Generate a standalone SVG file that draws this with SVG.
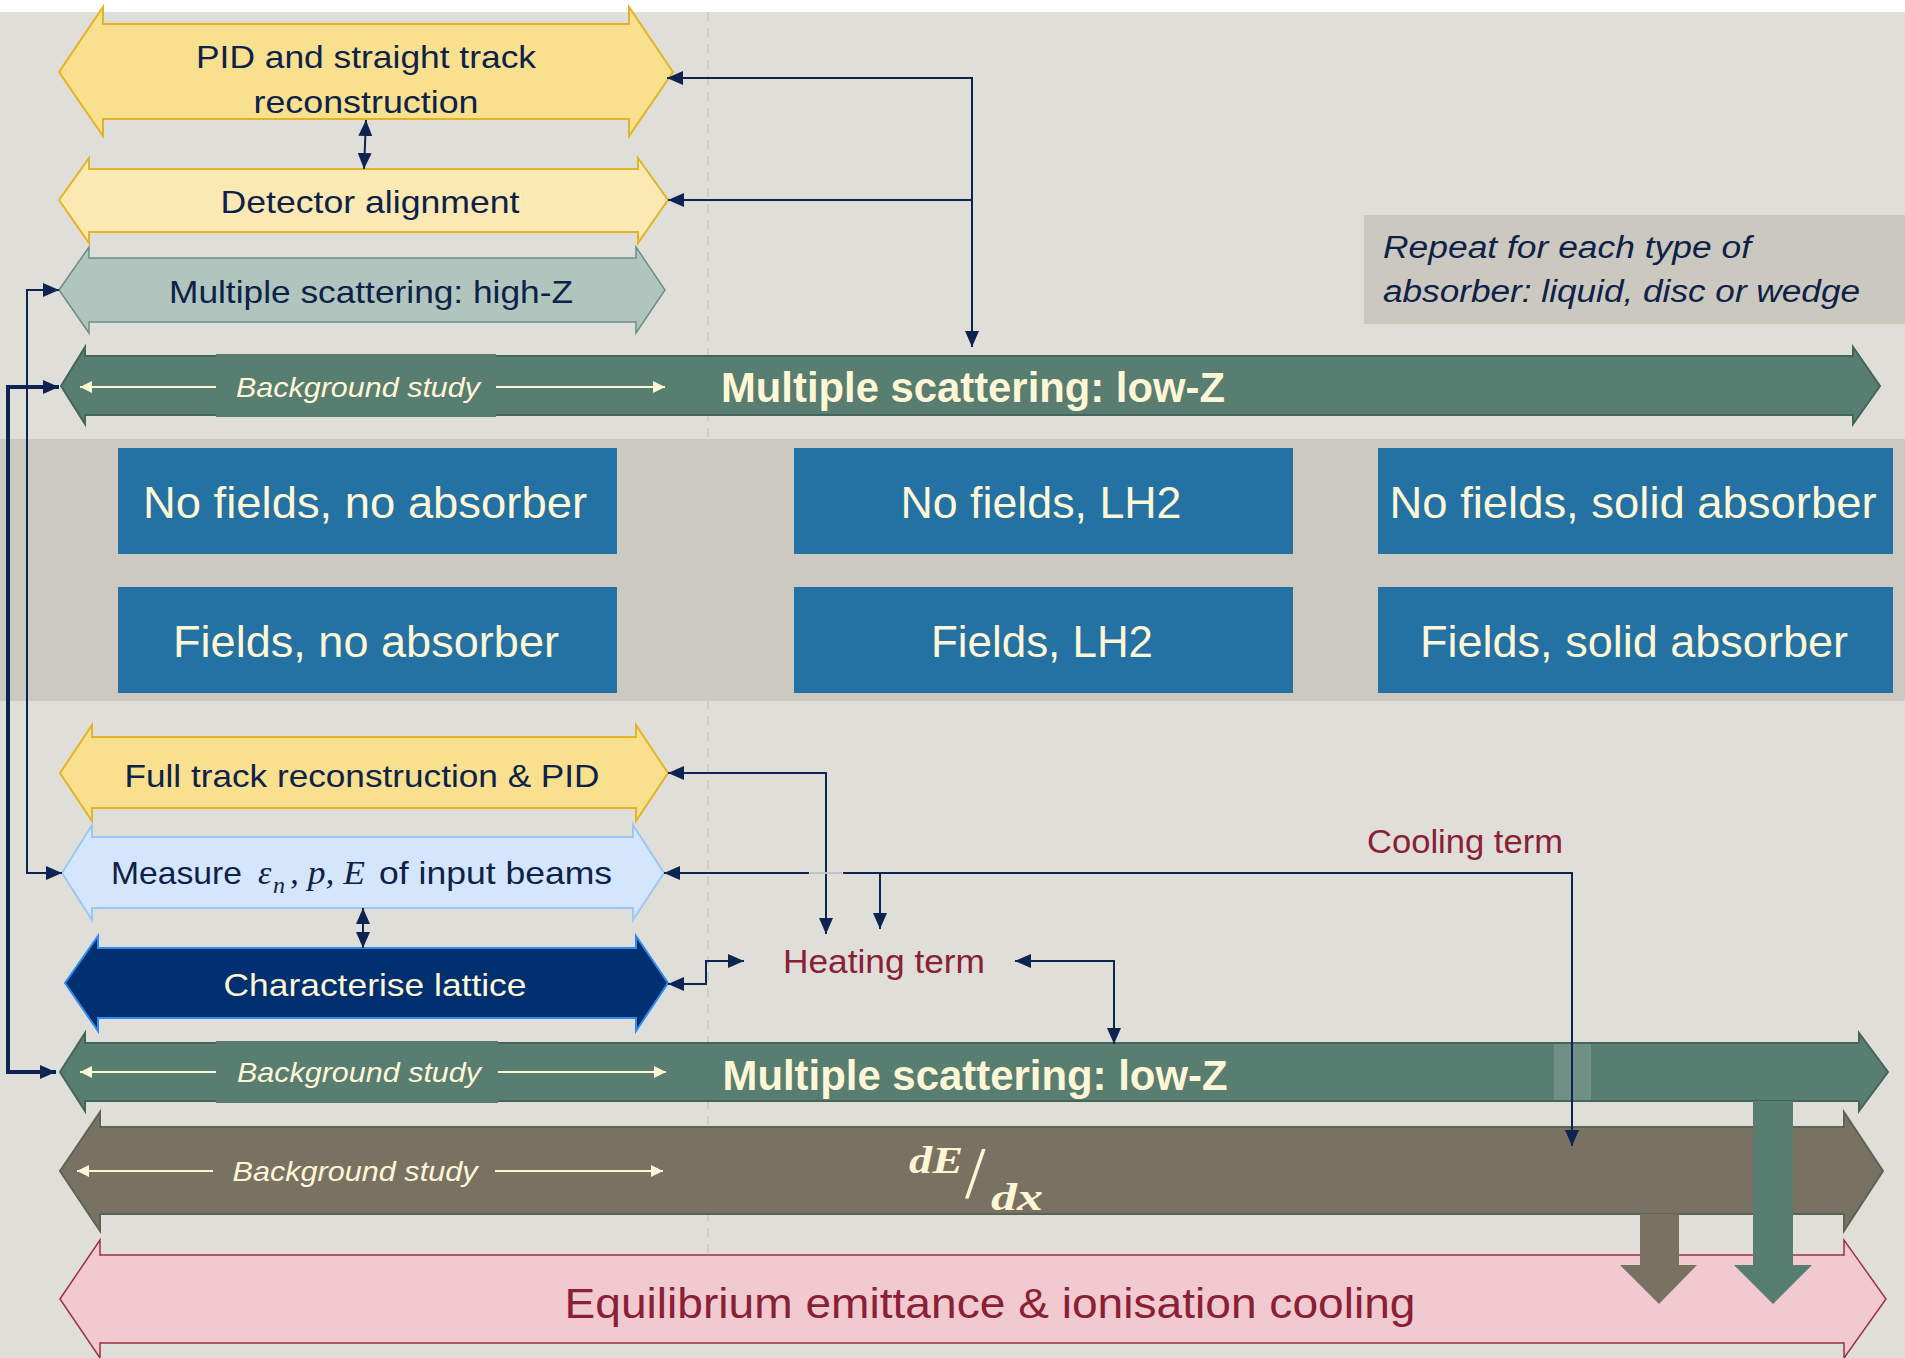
<svg xmlns="http://www.w3.org/2000/svg" width="1905" height="1358" viewBox="0 0 1905 1358">
<defs>
<style>
.t{font-family:"Liberation Sans",Arial,sans-serif;}
.m{font-family:"Liberation Serif","DejaVu Serif",serif;font-style:italic;}
.navy{fill:#0E2148}
.cream{fill:#FFF6D6}
.red{fill:#8B2035}
.ln{fill:none;stroke:#0D2450;stroke-width:2}
.thick{stroke-width:4}
.lnw{fill:none;stroke:#FFF6D6;stroke-width:2}
.box{fill:#2372A3}
</style>
<marker id="ah" viewBox="0 0 16 14" refX="16" refY="7" markerWidth="16" markerHeight="14" markerUnits="userSpaceOnUse" orient="auto-start-reverse"><path d="M0,0 L16,7 L0,14 z" fill="#0D2450"/></marker>
<marker id="wh" viewBox="0 0 12 12" refX="12" refY="6" markerWidth="12" markerHeight="12" markerUnits="userSpaceOnUse" orient="auto-start-reverse"><path d="M0,0 L12,6 L0,12 z" fill="#FFF6D6"/></marker>
</defs>
<rect x="0" y="0" width="1905" height="1358" fill="#FFFFFF"/>
<rect x="0" y="12" width="1905" height="1346" fill="#DFDED9"/>
<line x1="708" y1="12" x2="708" y2="1256" stroke="#C9C6BF" stroke-width="1.5" stroke-dasharray="9 7"/>
<rect id="band" x="0" y="439" width="1905" height="262" fill="#CCC9C1"/>

<g id="pid-straight">
<polygon points="59,72 103,7 103,24 629,24 629,7 673,72 629,136 629,119 103,119 103,136" fill="#F8E08F" stroke="#E3B324" stroke-width="2"/>
<text class="t navy" x="366" y="68" font-size="32" text-anchor="middle" textLength="340" lengthAdjust="spacingAndGlyphs">PID and straight track</text>
<text class="t navy" x="366" y="113" font-size="32" text-anchor="middle" textLength="225" lengthAdjust="spacingAndGlyphs">reconstruction</text>
</g>
<g id="detector-alignment">
<polygon points="59,200 89,158 89,169 638,169 638,158 668,200 638,243 638,232 89,232 89,243" fill="#FAE9B2" stroke="#E3B324" stroke-width="2"/>
<text class="t navy" x="370" y="213" font-size="32" text-anchor="middle" textLength="299" lengthAdjust="spacingAndGlyphs">Detector alignment</text>
</g>
<g id="ms-highz">
<polygon points="59,290 89,247 89,258 636,258 636,247 665,290 636,333 636,322 89,322 89,333" fill="#AFC5BD" stroke="#6E8E85" stroke-width="1.5"/>
<text class="t navy" x="371" y="303" font-size="32" text-anchor="middle" textLength="404" lengthAdjust="spacingAndGlyphs">Multiple scattering: high-Z</text>
</g>
<g id="ms-lowz-top">
<polygon points="61,386 85,347 85,356 1853,356 1853,347 1880,386 1853,424 1853,415 85,415 85,424" fill="#587D71" stroke="#456559" stroke-width="2"/>
<rect x="216" y="354" width="280" height="63" fill="#587D71"/>
<line class="lnw" x1="216" y1="387" x2="80" y2="387" marker-end="url(#wh)"/>
<line class="lnw" x1="496" y1="387" x2="665" y2="387" marker-end="url(#wh)"/>
<text class="t cream" x="358" y="397" font-size="28" font-style="italic" text-anchor="middle" textLength="244" lengthAdjust="spacingAndGlyphs">Background study</text>
<text class="t cream" x="973" y="402" font-size="42" font-weight="bold" text-anchor="middle" textLength="504" lengthAdjust="spacingAndGlyphs">Multiple scattering: low-Z</text>
</g>
<g id="repeat-note">
<rect x="1364" y="215" width="541" height="109" fill="#CBC8BF"/>
<text class="t navy" x="1383" y="258" font-size="31" font-style="italic" textLength="368" lengthAdjust="spacingAndGlyphs">Repeat for each type of</text>
<text class="t navy" x="1383" y="302" font-size="31" font-style="italic" textLength="477" lengthAdjust="spacingAndGlyphs">absorber: liquid, disc or wedge</text>
</g>

<g id="nofields-noabs"><rect class="box" x="118" y="448" width="499" height="106"/><text class="t cream" x="365" y="518" font-size="44" text-anchor="middle" textLength="444" lengthAdjust="spacingAndGlyphs">No fields, no absorber</text></g>
<g id="nofields-lh2"><rect class="box" x="794" y="448" width="499" height="106"/><text class="t cream" x="1041" y="518" font-size="44" text-anchor="middle" textLength="281" lengthAdjust="spacingAndGlyphs">No fields, LH2</text></g>
<g id="nofields-solid"><rect class="box" x="1378" y="448" width="515" height="106"/><text class="t cream" x="1633" y="518" font-size="44" text-anchor="middle" textLength="487" lengthAdjust="spacingAndGlyphs">No fields, solid absorber</text></g>
<g id="fields-noabs"><rect class="box" x="118" y="587" width="499" height="106"/><text class="t cream" x="366" y="657" font-size="44" text-anchor="middle" textLength="386" lengthAdjust="spacingAndGlyphs">Fields, no absorber</text></g>
<g id="fields-lh2"><rect class="box" x="794" y="587" width="499" height="106"/><text class="t cream" x="1042" y="657" font-size="44" text-anchor="middle" textLength="222" lengthAdjust="spacingAndGlyphs">Fields, LH2</text></g>
<g id="fields-solid"><rect class="box" x="1378" y="587" width="515" height="106"/><text class="t cream" x="1634" y="657" font-size="44" text-anchor="middle" textLength="428" lengthAdjust="spacingAndGlyphs">Fields, solid absorber</text></g>

<g id="full-track">
<polygon points="60,773 92,725 92,737 636,737 636,725 668,773 636,821 636,808 92,808 92,821" fill="#F8E08F" stroke="#E3B324" stroke-width="2"/>
<text class="t navy" x="362" y="787" font-size="32" text-anchor="middle" textLength="475" lengthAdjust="spacingAndGlyphs">Full track reconstruction &amp; PID</text>
</g>
<g id="measure">
<polygon points="62,873 92,825 92,837 633,837 633,825 664,873 633,920 633,908 92,908 92,920" fill="#D4E6FB" stroke="#9DC7F2" stroke-width="2"/>
<text class="t navy" x="111" y="884" font-size="32" textLength="131" lengthAdjust="spacingAndGlyphs">Measure</text>
<text class="m navy" x="258" y="884" font-size="34">ε</text>
<text class="m navy" x="273" y="893" font-size="24">n</text>
<text class="m navy" x="290" y="884" font-size="34" textLength="75" lengthAdjust="spacingAndGlyphs">, p, E</text>
<text class="t navy" x="379" y="884" font-size="32" textLength="233" lengthAdjust="spacingAndGlyphs">of input beams</text>
</g>
<g id="characterise-lattice">
<polygon points="65,983 98,936 98,948 636,948 636,936 668,983 636,1031 636,1018 98,1018 98,1031" fill="#003070" stroke="#2E8BEF" stroke-width="2"/>
<text class="t cream" x="375" y="996" font-size="32" text-anchor="middle" textLength="303" lengthAdjust="spacingAndGlyphs">Characterise lattice</text>
</g>
<g id="heating-term"><text class="t red" x="884" y="973" font-size="33" text-anchor="middle" textLength="202" lengthAdjust="spacingAndGlyphs">Heating term</text></g>
<g id="cooling-term"><text class="t red" x="1465" y="853" font-size="33" text-anchor="middle" textLength="196" lengthAdjust="spacingAndGlyphs">Cooling term</text></g>

<g id="ms-lowz-bottom">
<polygon points="60,1072 85,1033 85,1043 1859,1043 1859,1033 1888,1072 1859,1111 1859,1101 85,1101 85,1111" fill="#587D71" stroke="#456559" stroke-width="2"/>
<rect x="216" y="1041" width="282" height="62" fill="#587D71"/>
<rect x="1554" y="1044" width="37" height="56" fill="#FFFFFF" fill-opacity="0.15"/>
<line class="lnw" x1="216" y1="1072" x2="80" y2="1072" marker-end="url(#wh)"/>
<line class="lnw" x1="498" y1="1072" x2="666" y2="1072" marker-end="url(#wh)"/>
<text class="t cream" x="359" y="1082" font-size="28" font-style="italic" text-anchor="middle" textLength="244" lengthAdjust="spacingAndGlyphs">Background study</text>
<text class="t cream" x="975" y="1090" font-size="42" font-weight="bold" text-anchor="middle" textLength="505" lengthAdjust="spacingAndGlyphs">Multiple scattering: low-Z</text>
</g>
<g id="dedx">
<polygon points="60,1171 100,1112 100,1127 1844,1127 1844,1112 1883,1171 1844,1231 1844,1214 100,1214 100,1231" fill="#797262" stroke="#5A6455" stroke-width="2"/>
<line class="lnw" x1="213" y1="1171" x2="77" y2="1171" marker-end="url(#wh)"/>
<line class="lnw" x1="495" y1="1171" x2="663" y2="1171" marker-end="url(#wh)"/>
<text class="t cream" x="355" y="1181" font-size="28" font-style="italic" text-anchor="middle" textLength="245" lengthAdjust="spacingAndGlyphs">Background study</text>
<text class="m cream" x="909" y="1173" font-size="38" font-weight="bold" textLength="54" lengthAdjust="spacingAndGlyphs">dE</text>
<text x="965" y="1198" font-family="Liberation Serif, serif" font-size="74" fill="#FFF6D6">/</text>
<text class="m cream" x="991" y="1210" font-size="38" font-weight="bold" textLength="52" lengthAdjust="spacingAndGlyphs">dx</text>
</g>
<g id="equilibrium">
<polygon points="60,1299 100,1240 100,1255 1844,1255 1844,1240 1886,1299 1844,1358 1844,1343 100,1343 100,1358" fill="#F1C9D0" stroke="#A0303F" stroke-width="1.5"/>
<text class="t red" x="990" y="1318" font-size="42" text-anchor="middle" textLength="851" lengthAdjust="spacingAndGlyphs">Equilibrium emittance &amp; ionisation cooling</text>
</g>
<g id="fat-arrows">
<polygon points="1640,1214 1679,1214 1679,1265 1697,1265 1659,1304 1620,1265 1640,1265" fill="#797262"/>
<polygon points="1753,1101 1793,1101 1793,1265 1812,1265 1773,1304 1734,1265 1753,1265" fill="#587D71"/>
</g>

<g id="connectors">
<path class="ln" d="M667,78 H972 V347" marker-start="url(#ah)" marker-end="url(#ah)"/>
<path class="ln" d="M668,200 H972" marker-start="url(#ah)"/>
<path class="ln" d="M366,120 L364,169" marker-start="url(#ah)" marker-end="url(#ah)"/>
<path class="ln" d="M59,290 H27 V873 H62" marker-start="url(#ah)" marker-end="url(#ah)"/>
<path class="ln thick" d="M59,387 H8 V1072 H56" marker-start="url(#ah)" marker-end="url(#ah)"/>
<path class="ln" d="M363,908 V948" marker-start="url(#ah)" marker-end="url(#ah)"/>
<path class="ln" d="M668,773 H826 V934" marker-start="url(#ah)" marker-end="url(#ah)"/>
<path class="ln" d="M664,873 H809" marker-start="url(#ah)"/>
<path d="M810,873 H842" stroke="#BFC3C8" stroke-width="2" fill="none"/>
<path class="ln" d="M843,873 H1572 V1146" marker-end="url(#ah)"/>
<path class="ln" d="M880,873 V929" marker-end="url(#ah)"/>
<path class="ln" d="M668,984 H706 V961 H744" marker-start="url(#ah)" marker-end="url(#ah)"/>
<path class="ln" d="M1015,961 H1114 V1044" marker-start="url(#ah)" marker-end="url(#ah)"/>
</g>
</svg>
